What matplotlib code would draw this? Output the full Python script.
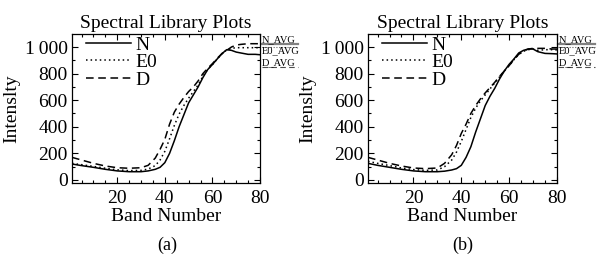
import matplotlib
matplotlib.use("Agg")
import matplotlib.pyplot as plt
from matplotlib.ticker import MultipleLocator, FuncFormatter

plt.rcParams["font.family"] = ["Liberation Serif", "DejaVu Serif"]

bands = [1, 5, 10, 15, 20, 25, 30, 33, 36, 38, 40, 42, 44, 46, 48, 50,
         52, 54, 56, 58, 60, 62, 64, 66, 68, 70, 72, 75, 78, 80]

# panel (a)
a_n = [120, 108, 95, 80, 68, 62, 62, 68, 80, 95, 130, 200, 295, 400, 490, 580,
       640, 700, 770, 830, 868, 910, 950, 980, 975, 962, 955, 945, 945, 942]
a_e0 = [125, 115, 102, 88, 76, 70, 72, 82, 108, 150, 215, 310, 410, 495, 560, 615,
        665, 715, 780, 832, 868, 910, 950, 978, 990, 995, 995, 995, 995, 995]
a_d = [170, 150, 125, 105, 92, 88, 92, 110, 165, 230, 305, 420, 510, 570, 620, 665,
       700, 745, 800, 840, 875, 915, 950, 975, 1000, 1015, 1020, 1025, 1025, 1025]

# panel (b)
b_n = [125, 110, 95, 80, 68, 62, 62, 66, 75, 85, 110, 170, 250, 360, 460, 560,
       630, 690, 760, 820, 870, 910, 955, 975, 985, 985, 965, 952, 950, 948]
b_e0 = [140, 125, 108, 90, 78, 72, 75, 100, 150, 210, 290, 380, 470, 540, 595, 640,
        685, 730, 775, 820, 860, 905, 945, 968, 980, 985, 975, 980, 980, 978]
b_d = [170, 150, 125, 105, 90, 85, 90, 125, 190, 260, 350, 420, 500, 560, 610, 655,
       695, 735, 780, 820, 860, 905, 945, 970, 985, 990, 990, 990, 985, 985]

series_names = ["N", "E0", "D"]
side_labels = ["N_AVG", "E0_AVG", "D_AVG"]
panel_tags = ["(a)", "(b)"]

styles = ["-", (0, (1, 2)), (0, (5, 3))]


def thousands(v, pos):
    v = int(round(v))
    if v >= 1000:
        return f"{v // 1000}\u2009{v % 1000:03d}"
    return str(v)


def draw_panel(ax, curves):
    for vals, name, ls in zip(curves, series_names, styles):
        ax.plot(bands, vals, color="black", linestyle=ls, linewidth=1.1, label=name)

    ax.set_xlim(1, 80)
    ax.set_ylim(-23, 1098)
    ax.xaxis.set_major_locator(MultipleLocator(20))
    ax.xaxis.set_minor_locator(MultipleLocator(5))
    ax.yaxis.set_major_locator(MultipleLocator(200))
    ax.yaxis.set_minor_locator(MultipleLocator(100))
    ax.yaxis.set_major_formatter(FuncFormatter(thousands))
    ax.tick_params(which="both", direction="in", top=True, right=True, width=0.8)
    ax.tick_params(which="major", length=4, labelsize=14)
    ax.tick_params(which="minor", length=2)
    ax.tick_params(axis="x", pad=5)
    ax.tick_params(axis="y", pad=3)
    for sp in ax.spines.values():
        sp.set_linewidth(0.9)

    ax.set_title("Spectral Library Plots", fontsize=14, pad=4)
    ax.set_xlabel("Band Number", fontsize=14, labelpad=1)
    ax.set_ylabel("Intenslty", fontsize=14, labelpad=3)

    ax.legend(loc="upper left", bbox_to_anchor=(0.064, 1.0), frameon=False,
              fontsize=14, handlelength=2.3, handletextpad=0.25,
              labelspacing=0.0, borderpad=0.1, borderaxespad=0)

    # names listed beside the plot, each with its line sample
    ys = [0.945, 0.868, 0.79]
    for lbl, y in zip(side_labels, ys):
        ax.text(1.008, y, lbl, transform=ax.transAxes, fontsize=7.5,
                ha="left", va="baseline", clip_on=False)
    ax.plot([1.008, 1.2], [0.935, 0.935], transform=ax.transAxes, color="0.5",
            linewidth=1.6, clip_on=False)
    ax.plot([1.008, 1.2], [0.91, 0.91], transform=ax.transAxes, color="0.4",
            linewidth=0.8, linestyle=(0, (1, 1.5)), clip_on=False)
    ax.plot([1.008, 1.2], [0.78, 0.78], transform=ax.transAxes, color="0.3",
            linewidth=0.8, linestyle=(0, (5, 3)), clip_on=False)


fig = plt.figure(figsize=(5.98, 2.57), dpi=100)
ax_a = fig.add_axes([0.1204, 0.2879, 0.3144, 0.5798])
ax_b = fig.add_axes([0.6154, 0.2879, 0.3160, 0.5798])

draw_panel(ax_a, [a_n, a_e0, a_d])
draw_panel(ax_b, [b_n, b_e0, b_d])

fig.text(167 / 598, 1 - 245 / 257, panel_tags[0], fontsize=13, ha="center", va="center")
fig.text(463 / 598, 1 - 245 / 257, panel_tags[1], fontsize=13, ha="center", va="center")

fig.savefig("out.png", dpi=100)
